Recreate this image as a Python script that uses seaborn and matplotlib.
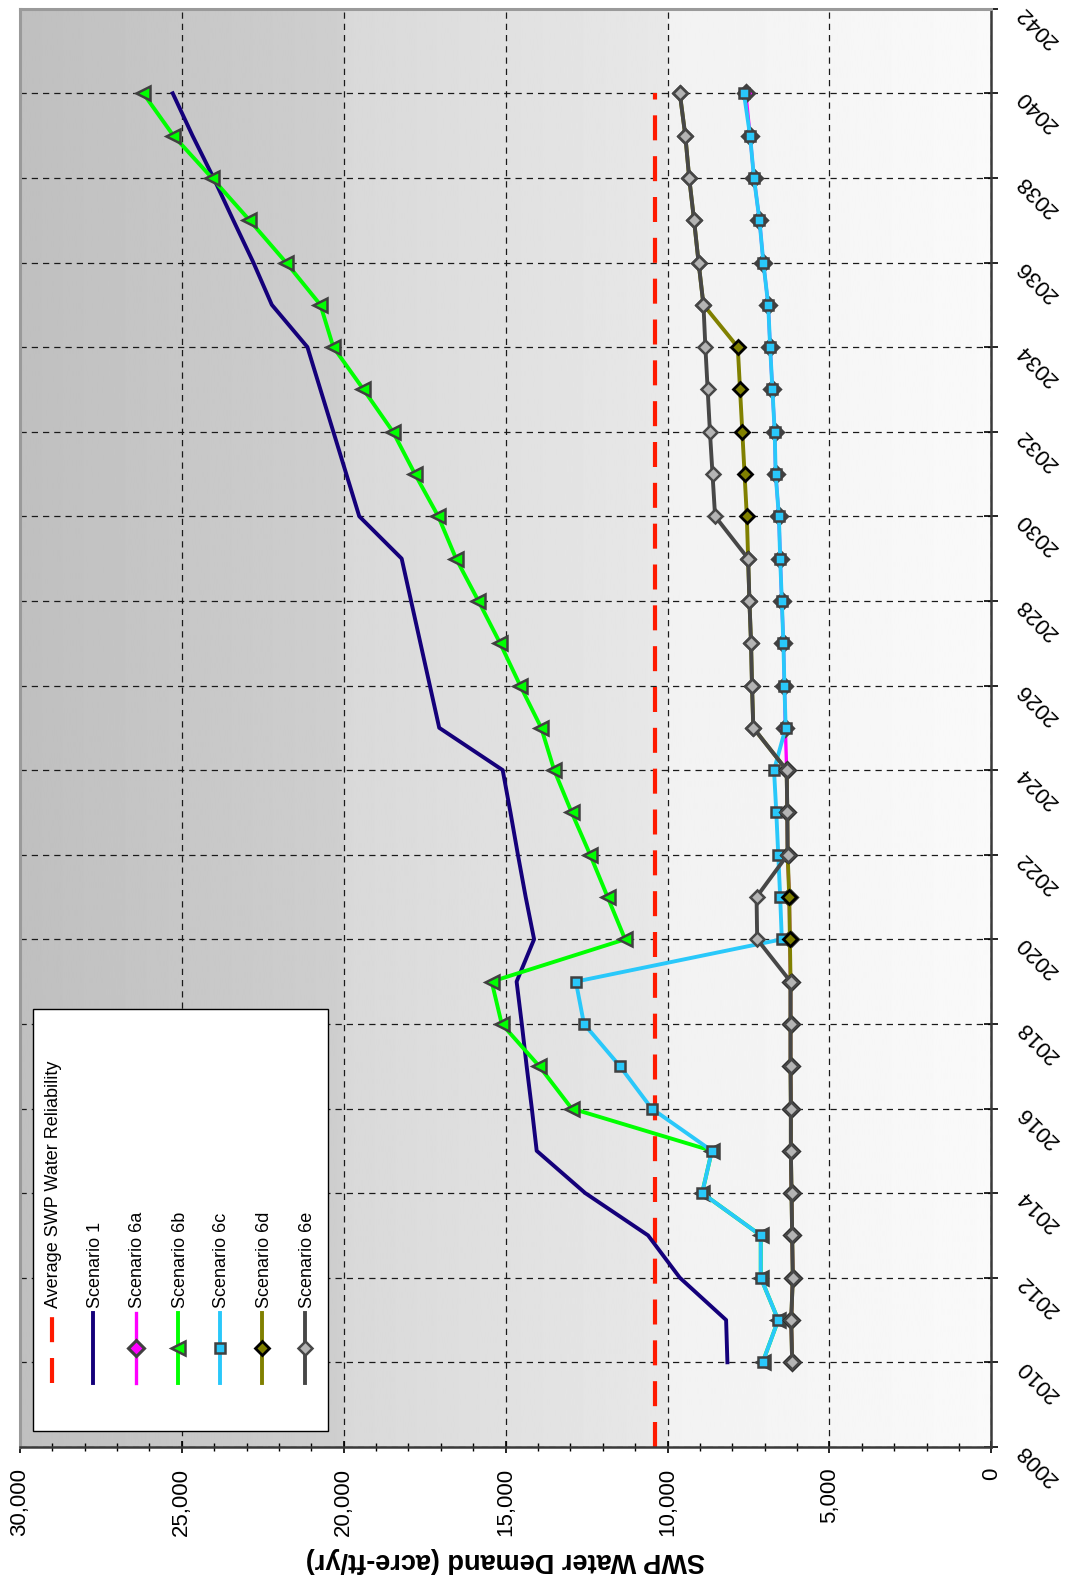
import numpy as np
import pandas as pd
import matplotlib
matplotlib.use("Agg")
import matplotlib.pyplot as plt
import seaborn as sns
from matplotlib.patches import Rectangle
from matplotlib.lines import Line2D
from matplotlib.ticker import MultipleLocator, FuncFormatter

plt.rcParams['font.family'] = ['Liberation Sans', 'DejaVu Sans']

# ---- data (acre-ft/yr), years 2010..2040 ----
years = [2010, 2011, 2012, 2013, 2014, 2015, 2016, 2017, 2018, 2019,
         2020, 2021, 2022, 2023, 2024, 2025, 2026, 2027, 2028, 2029,
         2030, 2031, 2032, 2033, 2034, 2035, 2036, 2037, 2038, 2039, 2040]

avg_years = [2008, 2040]
avg_reliability = [10400, 10400]

scenario_1 = [8150, 8190, 9620, 10600, 12540, 14040, 14190, 14350, 14500, 14660,
              14120, 14380, 14620, 14850, 15090, 17050, 17340, 17630, 17920, 18210,
              19520, 19920, 20320, 20720, 21120, 22220, 22790, 23410, 24020, 24670, 25280]

scenario_6a = [6150, 6180, 6130, 6150, 6170, 6190, 6190, 6200, 6200, 6200,
               6220, 6240, 6290, 6300, 6320, 6360, 6390, 6420, 6470, 6520,
               6560, 6660, 6690, 6760, 6830, 6890, 7040, 7160, 7330, 7450, 7580]

scenario_6b = [7060, 6580, 7120, 7120, 8930, 8630, 12960, 13960, 15120, 15430,
               11310, 11850, 12390, 12960, 13500, 13900, 14550, 15170, 15840, 16530,
               17080, 17800, 18480, 19390, 20320, 20720, 21780, 22910, 24070, 25260, 26190]

scenario_6c = [7060, 6580, 7120, 7120, 8930, 8630, 10490, 11470, 12580, 12830,
               6470, 6520, 6580, 6640, 6710, 6350, 6390, 6420, 6470, 6520,
               6560, 6660, 6690, 6760, 6830, 6890, 7040, 7160, 7330, 7450, 7640]

scenario_6d = [6150, 6180, 6130, 6150, 6170, 6190, 6190, 6200, 6200, 6200,
               6220, 6240, 6290, 6300, 6320, 7350, 7390, 7420, 7470, 7510,
               7550, 7620, 7690, 7760, 7830, 8890, 9040, 9180, 9330, 9450, 9620]

scenario_6e = [6150, 6180, 6130, 6150, 6170, 6190, 6190, 6200, 6200, 6200,
               7230, 7250, 6290, 6300, 6320, 7350, 7390, 7420, 7470, 7510,
               8530, 8610, 8690, 8760, 8830, 8890, 9040, 9180, 9330, 9450, 9620]

year_ticks = [2008, 2010, 2012, 2014, 2016, 2018, 2020, 2022, 2024, 2026,
              2028, 2030, 2032, 2034, 2036, 2038, 2040, 2042]

labels = ['Average SWP Water Reliability', 'Scenario 1', 'Scenario 6a', 'Scenario 6b',
          'Scenario 6c', 'Scenario 6d', 'Scenario 6e']

# ---- styles ----
red_dash = (0, (6, 3.8))
styles = {
    'Scenario 1': dict(color='#14007a', lw=2.8),
    'Scenario 6a': dict(color='#ff00ff', lw=2.4, marker='D', markersize=8.5,
                        markerfacecolor='#ff00ff', markeredgecolor='#404040', markeredgewidth=2.2),
    'Scenario 6b': dict(color='#00ff00', lw=2.8, marker='<', markersize=9.5,
                        markerfacecolor='#00ff00', markeredgecolor='#404040', markeredgewidth=1.8),
    'Scenario 6c': dict(color='#29c8fa', lw=2.8, marker='s', markersize=7,
                        markerfacecolor='#29c8fa', markeredgecolor='#404040', markeredgewidth=1.8),
    'Scenario 6d': dict(color='#808000', lw=2.8, marker='D', markersize=7,
                        markerfacecolor='#808000', markeredgecolor='black', markeredgewidth=2),
    'Scenario 6e': dict(color='#474747', lw=2.8, marker='D', markersize=7,
                        markerfacecolor='#b4b4b4', markeredgecolor='#474747', markeredgewidth=1.8),
}
series = {'Scenario 1': scenario_1, 'Scenario 6a': scenario_6a, 'Scenario 6b': scenario_6b,
          'Scenario 6c': scenario_6c, 'Scenario 6d': scenario_6d, 'Scenario 6e': scenario_6e}

W, H = 1069, 1583
fig = plt.figure(figsize=(W / 100, H / 100), dpi=100)
ax = fig.add_axes([19.9 / W, (H - 1446.9) / H, (991.3 - 19.9) / W, (1446.9 - 8.7) / H])

# plot-area gradient background (banded, darker on the high-value side)
bg_stops = [0.0, 0.333, 0.334, 0.666, 0.667, 1.0]
bg_levels = [0.75, 0.81, 0.85, 0.91, 0.948, 0.978]
grad = np.interp(np.linspace(0, 1, 800), bg_stops, bg_levels)[None, :]
ax.imshow(grad, extent=[0, 1, 0, 1], transform=ax.transAxes, cmap='gray',
          vmin=0, vmax=1, aspect='auto', zorder=0, interpolation='bilinear')

sns.lineplot(x=avg_reliability, y=avg_years, orient='y', estimator=None, ax=ax,
             color='#ff1a00', lw=3, linestyle=red_dash, legend=False)
for name, vals in series.items():
    df = pd.DataFrame({'year': years, 'value': vals})
    sns.lineplot(data=df, x='value', y='year', orient='y', estimator=None, ax=ax,
                 legend=False, **styles[name])

ax.set_xlim(30000, 0)
ax.set_ylim(2008, 2042)
ax.set_axisbelow(True)

ax.xaxis.set_major_locator(MultipleLocator(5000))
ax.xaxis.set_minor_locator(MultipleLocator(1000))
ax.xaxis.set_major_formatter(FuncFormatter(lambda v, p: f'{int(v):,}'))
ax.set_yticks(year_ticks)
ax.set_yticklabels([str(y) for y in year_ticks])
ax.yaxis.tick_right()

ax.grid(True, which='major', color='#1a1a1a', linestyle=(0, (5, 4)), linewidth=0.9)

ax.tick_params(axis='x', which='major', direction='inout', length=8, width=1.2,
               labelsize=16, labelrotation=90, pad=11)
ax.tick_params(axis='x', which='minor', direction='inout', length=6, width=1)
ax.tick_params(axis='y', which='major', direction='inout', length=10, width=1.2,
               labelsize=16, pad=16)
for lab in ax.get_yticklabels():
    lab.set_rotation(135)
    lab.set_rotation_mode('anchor')
    lab.set_ha('right')
    lab.set_va('center')

ax.set_xlabel('SWP Water Demand (acre-ft/yr)', fontsize=19.5, fontweight='bold',
              rotation=180, labelpad=8)
ax.set_ylabel('')

for side in ['top', 'left']:
    ax.spines[side].set_color('#9a9a9a')
    ax.spines[side].set_linewidth(2.2)
for side in ['bottom', 'right']:
    ax.spines[side].set_color('#3a3a3a')
    ax.spines[side].set_linewidth(1.8)


# ---- legend (rotated, drawn by hand) ----
def fx(px):
    return px / W


def fy(py):
    return 1 - py / H


fig.add_artist(Rectangle((fx(32.7), fy(1431)), fx(327.7) - fx(32.7), fy(1009.3) - fy(1431),
                         transform=fig.transFigure, facecolor='white', edgecolor='black',
                         lw=1, zorder=5))
leg_x = [51.7, 93.3, 136, 178.3, 220, 262.3, 305]
for i, (lx, lab) in enumerate(zip(leg_x, labels)):
    if i == 0:
        fig.add_artist(Line2D([fx(lx), fx(lx)], [fy(1383), fy(1313)], transform=fig.transFigure,
                              color='#ff1a00', lw=3, linestyle=red_dash, zorder=6))
    else:
        st = dict(styles[lab])
        fig.add_artist(Line2D([fx(lx), fx(lx)], [fy(1383), fy(1313)], transform=fig.transFigure,
                              color=st['color'], lw=st['lw'], zorder=6))
        if 'marker' in st:
            fig.add_artist(Line2D([fx(lx)], [fy(1348)], transform=fig.transFigure, linestyle='none',
                                  marker=st['marker'], markersize=st['markersize'],
                                  markerfacecolor=st['markerfacecolor'],
                                  markeredgecolor=st['markeredgecolor'],
                                  markeredgewidth=st['markeredgewidth'], zorder=7))
    fig.text(fx(lx + 2), fy(1308), lab, rotation=90, rotation_mode='anchor',
             ha='left', va='center', fontsize=13, zorder=8)

fig.savefig('out.png', dpi=100)
